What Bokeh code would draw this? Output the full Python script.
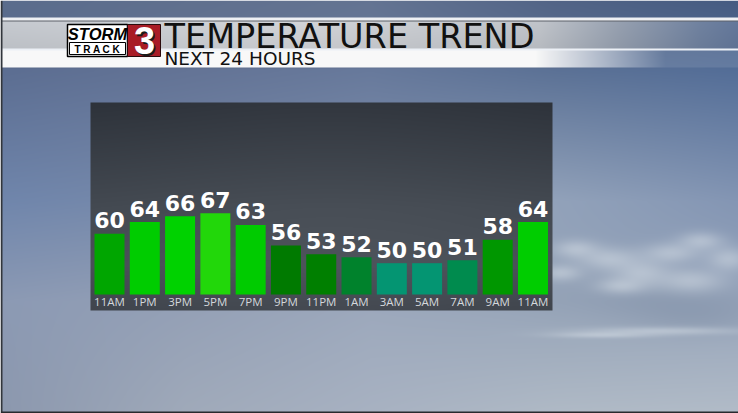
import numpy as np
from bokeh.plotting import figure
from bokeh.models import Range1d, ColumnDataSource
from bokeh.core.properties import value
from bokeh.embed import file_html
from bokeh.resources import INLINE

# ---------------- data ----------------
times = ["11AM", "1PM", "3PM", "5PM", "7PM", "9PM", "11PM", "1AM", "3AM", "5AM", "7AM", "9AM", "11AM"]
temps = [60, 64, 66, 67, 63, 56, 53, 52, 50, 50, 51, 58, 64]
bar_colors = ["#00a600", "#00cc00", "#00d200", "#22d70a", "#00cb00", "#007a00", "#007f00",
              "#00822c", "#049572", "#049572", "#008b4e", "#009700", "#00cd00"]
title_text = "TEMPERATURE TREND"
subtitle_text = "NEXT 24 HOURS"

# ---------------- layout ----------------
W, H = 738, 413

BASE = 39.35      # temperature at the bars' baseline
PXD = 2.94        # pixels per degree
BASE_Y = 294      # pixel row of baseline
BAR0_X = 109.0    # pixel centre of first bar
STEP = 35.29      # pixel spacing of bars

p = figure(width=W, height=H, x_range=Range1d(0, W), y_range=Range1d(0, H),
           output_backend="svg", toolbar_location=None, min_border=0, title=None,
           x_axis_location=None, y_axis_location=None)
p.grid.visible = False
p.outline_line_color = None
p.border_fill_color = None
p.background_fill_color = None

p.extra_x_ranges = {"bx": Range1d(-BAR0_X / STEP, (W - BAR0_X) / STEP)}
p.extra_y_ranges = {"ty": Range1d(BASE - (H - BASE_Y) / PXD, BASE + BASE_Y / PXD)}

# ---------------- background image ----------------
yy, xx = np.mgrid[0:H, 0:W].astype(float)
gx = [0, 185, 370, 555, 738]
gy = [0, 70, 200, 300, 413]
grid = np.array([
    [(90, 108, 140), (96, 112, 142), (100, 116, 146), (82, 100, 134), (70, 92, 130)],
    [(92, 110, 146), (100, 116, 150), (104, 122, 156), (92, 114, 150), (84, 110, 152)],
    [(112, 134, 172), (120, 138, 170), (132, 148, 176), (146, 162, 186), (132, 150, 180)],
    [(140, 154, 180), (148, 160, 182), (156, 168, 188), (150, 164, 184), (150, 164, 186)],
    [(140, 152, 174), (160, 170, 186), (168, 178, 194), (176, 186, 198), (178, 188, 200)],
], dtype=float)
xs = np.arange(W, dtype=float)
ysr = np.arange(H, dtype=float)
rows = np.stack([np.stack([np.interp(xs, gx, grid[j, :, c]) for c in range(3)], axis=1)
                 for j in range(len(gy))])           # (5, W, 3)
sky = np.empty((H, W, 3))
for c in range(3):
    for i in range(W):
        sky[:, i, c] = np.interp(ysr, gy, rows[:, i, c])

# clouds at the right
dark = [(660, 300, 80, 22), (700, 315, 60, 18)]
for cx, cy, rx, ry in dark:
    a = np.exp(-(((xx - cx) / rx) ** 2 + ((yy - cy) / ry) ** 2))[..., None] * 0.25
    sky = sky * (1 - a) + np.array([120, 136, 160.]) * a
bright = [(575, 248, 22, 9), (608, 258, 30, 11), (640, 272, 28, 13), (670, 252, 28, 10),
          (700, 240, 22, 9), (728, 258, 22, 12), (690, 280, 34, 12), (560, 272, 20, 8),
          (620, 285, 24, 8), (660, 330, 80, 4), (600, 334, 50, 3)]
for cx, cy, rx, ry in bright:
    a = np.exp(-(((xx - cx) / rx) ** 2 + ((yy - cy) / ry) ** 2))[..., None] * 0.5
    sky = sky * (1 - a) + np.array([214, 222, 230.]) * a

img = sky.copy()
# header band
stops_x = [0, 300, 540, 620, 700, 738]
band_cols = np.stack([np.interp(xs, stops_x, [198, 210, 192, 150, 112, 100]),
                      np.interp(xs, stops_x, [202, 212, 196, 160, 130, 120]),
                      np.interp(xs, stops_x, [208, 216, 202, 176, 160, 155])], axis=1)
img[17:20, :, :] = [238, 240, 244]
img[20, :, :] = [92, 96, 104]
for r in range(21, 48):
    shade = 1.0 - 0.05 * (r - 21) / 27
    img[r, :, :] = band_cols * shade
img[48:50, :, :] = [236, 240, 246]
alpha = np.clip((665 - xs) / 130, 0, 1)[:, None]
for r in range(50, 67):
    under = sky[r] * 0.9 + 255 * 0.1
    img[r, :, :] = np.array([248, 248, 248.]) * alpha + under * (1 - alpha)
img[67, :, :] = sky[67] * (1 - 0.25 * alpha) + np.array([80, 92, 116.]) * 0.25 * alpha

# chart panel
py0, py1, px0, px1 = 102, 310, 90, 552
ys = np.arange(py0, py1, dtype=float)
t = (ys - py0) / (py1 - py0)
pc = np.stack([np.interp(t, [0, 0.5, 0.78, 1], [44, 66, 72, 62]),
               np.interp(t, [0, 0.5, 0.78, 1], [49, 72, 78, 67]),
               np.interp(t, [0, 0.5, 0.78, 1], [57, 80, 86, 75])], axis=1)
hx = np.exp(-((np.arange(px0, px1) - 330) / 220.0) ** 2)[None, :, None] * 6
img[py0:py1, px0:px1, :] = pc[:, None, :] + hx
# thin dark frame of the picture
img[:, 0:2, :] = [50, 54, 60]
img[H - 2:, :, :] = [40, 42, 46]

img = np.clip(img, 0, 255).astype(np.uint8)[::-1]
rgba = np.empty((H, W), dtype=np.uint32)
view = rgba.view(dtype=np.uint8).reshape((H, W, 4))
view[..., :3] = img
view[..., 3] = 255
p.image_rgba(image=[rgba], x=0, y=0, dw=W, dh=H)

# ---------------- header texts and logo ----------------
p.text(x=[164], y=[H - 35.5], text=[title_text], text_font=value("DejaVu Sans"), text_font_size="33.5px",
       text_color="#111111", text_baseline="middle", text_align="left")
p.text(x=[164], y=[H - 58], text=[subtitle_text], text_font=value("DejaVu Sans"), text_font_size="18.5px",
       text_color="#111111", text_baseline="middle", text_align="left")

p.quad(left=[67], right=[127], top=[H - 24], bottom=[H - 56], fill_color="white", line_color="black", line_width=1.5)
p.quad(left=[69], right=[125], top=[H - 42], bottom=[H - 54], fill_color="white", line_color="black", line_width=1)
p.quad(left=[127], right=[160], top=[H - 24], bottom=[H - 56], fill_color="#a81c26", line_color="#2a0a0c", line_width=1)
p.text(x=[97], y=[H - 33], text=["STORM"], text_font=value("Liberation Sans"), text_font_style="bold italic",
       text_font_size="16.5px", text_color="black", text_align="center", text_baseline="middle")
p.text(x=[97], y=[H - 48.5], text=["T R A C K"], text_font=value("Liberation Sans"), text_font_style="bold",
       text_font_size="10px", text_color="black", text_align="center", text_baseline="middle")
p.text(x=[144], y=[H - 40], text=["3"], text_font=value("Liberation Sans"), text_font_style="bold",
       text_font_size="38px", text_color="#1a1a1a", text_align="center", text_baseline="middle",
       x_offset=1.5, y_offset=1.5)
p.text(x=[144], y=[H - 40], text=["3"], text_font=value("Liberation Sans"), text_font_style="bold",
       text_font_size="38px", text_color="white", text_align="center", text_baseline="middle")

# ---------------- bars ----------------
src = ColumnDataSource(dict(x=list(range(len(temps))), top=temps, color=bar_colors,
                            label=[str(t) for t in temps], time=times))
p.vbar(x="x", top="top", bottom=BASE, width=0.85, fill_color="color", line_color=None,
       source=src, x_range_name="bx", y_range_name="ty")
p.text(x="x", y="top", text="label", source=src, x_range_name="bx", y_range_name="ty",
       text_font=value("DejaVu Sans"), text_font_style="bold", text_font_size="22px",
       text_color="white", text_align="center", text_baseline="middle", y_offset=-13.5)
p.text(x="x", y=BASE, text="time", source=src, x_range_name="bx", y_range_name="ty",
       text_font=value("Open Sans"), text_font_size="11.5px",
       text_color="#d4d8dc", text_align="center", text_baseline="middle", y_offset=6.5)

open("out.html", "w").write(file_html(p, INLINE))
